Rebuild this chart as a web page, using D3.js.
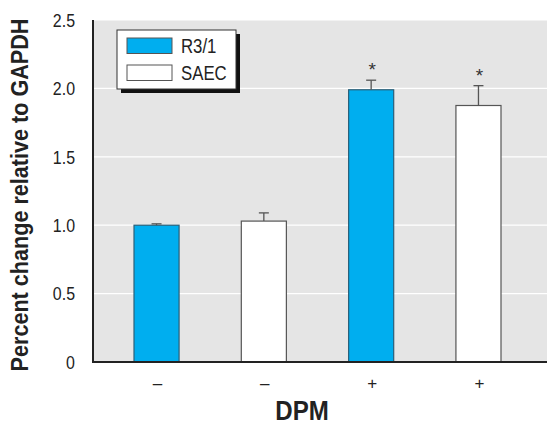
<!DOCTYPE html>
<html><head><meta charset="utf-8">
<script src="https://cdn.jsdelivr.net/npm/d3@7"></script>
<style>body{margin:0;background:#fff}</style>
</head><body>
<script>
const categories = ["–", "–", "+", "+"];
const series = ["R3/1", "SAEC", "R3/1", "SAEC"];
const values = [1.0, 1.03, 1.99, 1.875];
const errors = [0.01, 0.06, 0.07, 0.145];
const stars = ["", "", "*", "*"];
const yTicks = [0, 0.5, 1.0, 1.5, 2.0, 2.5];
const yTickLabels = ["0", "0.5", "1.0", "1.5", "2.0", "2.5"];
const legendItems = ["R3/1", "SAEC"];

(function(){
const W = 557, H = 430;
const font = "'Liberation Sans Narrow','Liberation Sans',Arial,sans-serif";
const colors = {"R3/1": "#00aeef", "SAEC": "#ffffff"};
const strokes = {"R3/1": "#2a5f78", "SAEC": "#555"};
const sx = 0.84;

const svg = d3.select("body").append("svg").attr("width", W).attr("height", H);
const pL = 93, pR = 547, pT = 20, pB = 362;

const y = d3.scaleLinear().domain([0, 2.5]).range([pB, pT]);
const x = d3.scaleBand().domain(d3.range(4)).range([134, 501]).paddingInner(0.58).paddingOuter(0);

svg.append("rect").attr("x", pL).attr("y", pT).attr("width", pR - pL).attr("height", pB - pT).attr("fill", "#e5e5e5");

svg.append("g").selectAll("line").data(yTicks.slice(1)).join("line")
  .attr("x1", pL).attr("x2", pR).attr("y1", d => y(d)).attr("y2", d => y(d))
  .attr("stroke", "#fff").attr("stroke-width", 1.2);

svg.append("g").selectAll("text").data(yTicks).join("text")
  .attr("transform", d => `translate(75,${y(d)}) scale(${sx},1)`).attr("dy", "0.36em")
  .attr("text-anchor", "end").attr("font-family", font).attr("font-size", 19).attr("fill", "#222")
  .text((d, i) => yTickLabels[i]);

const g = svg.append("g");
g.selectAll("rect.bar").data(values).join("rect").attr("class", "bar")
  .attr("x", (d, i) => x(i)).attr("width", x.bandwidth())
  .attr("y", d => y(d)).attr("height", d => pB - y(d))
  .attr("fill", (d, i) => colors[series[i]]).attr("stroke", (d, i) => strokes[series[i]]).attr("stroke-width", 1.2);

g.selectAll("line.err").data(values).join("line").attr("class", "err")
  .attr("x1", (d, i) => x(i) + x.bandwidth() / 2).attr("x2", (d, i) => x(i) + x.bandwidth() / 2)
  .attr("y1", d => y(d)).attr("y2", (d, i) => y(d + errors[i]))
  .attr("stroke", "#555").attr("stroke-width", 1.3);
g.selectAll("line.cap").data(values).join("line").attr("class", "cap")
  .attr("x1", (d, i) => x(i) + x.bandwidth() / 2 - 5).attr("x2", (d, i) => x(i) + x.bandwidth() / 2 + 5)
  .attr("y1", (d, i) => y(d + errors[i])).attr("y2", (d, i) => y(d + errors[i]))
  .attr("stroke", "#555").attr("stroke-width", 1.3);
g.selectAll("text.star").data(values).join("text").attr("class", "star")
  .attr("x", (d, i) => x(i) + x.bandwidth() / 2 + 1).attr("y", (d, i) => y(d + errors[i]) - 4)
  .attr("text-anchor", "middle").attr("font-family", font).attr("font-size", 19).attr("fill", "#333")
  .text((d, i) => stars[i]);

svg.append("line").attr("x1", pL).attr("x2", pL).attr("y1", pT).attr("y2", pB + 1).attr("stroke", "#222").attr("stroke-width", 2);
svg.append("line").attr("x1", pL).attr("x2", pR).attr("y1", pB).attr("y2", pB).attr("stroke", "#222").attr("stroke-width", 2);

svg.append("g").selectAll("text").data(categories).join("text")
  .attr("x", (d, i) => x(i) + x.bandwidth() / 2 + 1).attr("y", 389)
  .attr("text-anchor", "middle").attr("font-family", font).attr("font-size", 17).attr("fill", "#222")
  .text(d => d);

svg.append("text").attr("transform", `translate(302,420) scale(0.86,1)`).attr("text-anchor", "middle")
  .attr("font-family", font).attr("font-weight", "bold").attr("font-size", 28).attr("fill", "#222").text("DPM");
svg.append("text").attr("transform", "translate(28,195) rotate(-90) scale(0.9,1)").attr("text-anchor", "middle")
  .attr("font-family", font).attr("font-weight", "bold").attr("font-size", 24).attr("fill", "#222")
  .text("Percent change relative to GAPDH");

const lg = svg.append("g");
lg.append("rect").attr("x", 121).attr("y", 34).attr("width", 119).attr("height", 59).attr("fill", "#111");
lg.append("rect").attr("x", 117).attr("y", 30).attr("width", 119).attr("height", 59).attr("fill", "#fff").attr("stroke", "#333").attr("stroke-width", 1);
lg.selectAll("rect.sw").data(legendItems).join("rect").attr("class", "sw")
  .attr("x", 127).attr("y", (d, i) => 38 + i * 27).attr("width", 45).attr("height", 15.5)
  .attr("fill", d => colors[d]).attr("stroke", "#555").attr("stroke-width", 1);
lg.selectAll("text").data(legendItems).join("text")
  .attr("transform", (d, i) => `translate(181,${46 + i * 27}) scale(${sx},1)`).attr("dy", "0.36em")
  .attr("font-family", font).attr("font-size", 20).attr("fill", "#222").text(d => d);
})();
</script>
</body></html>
